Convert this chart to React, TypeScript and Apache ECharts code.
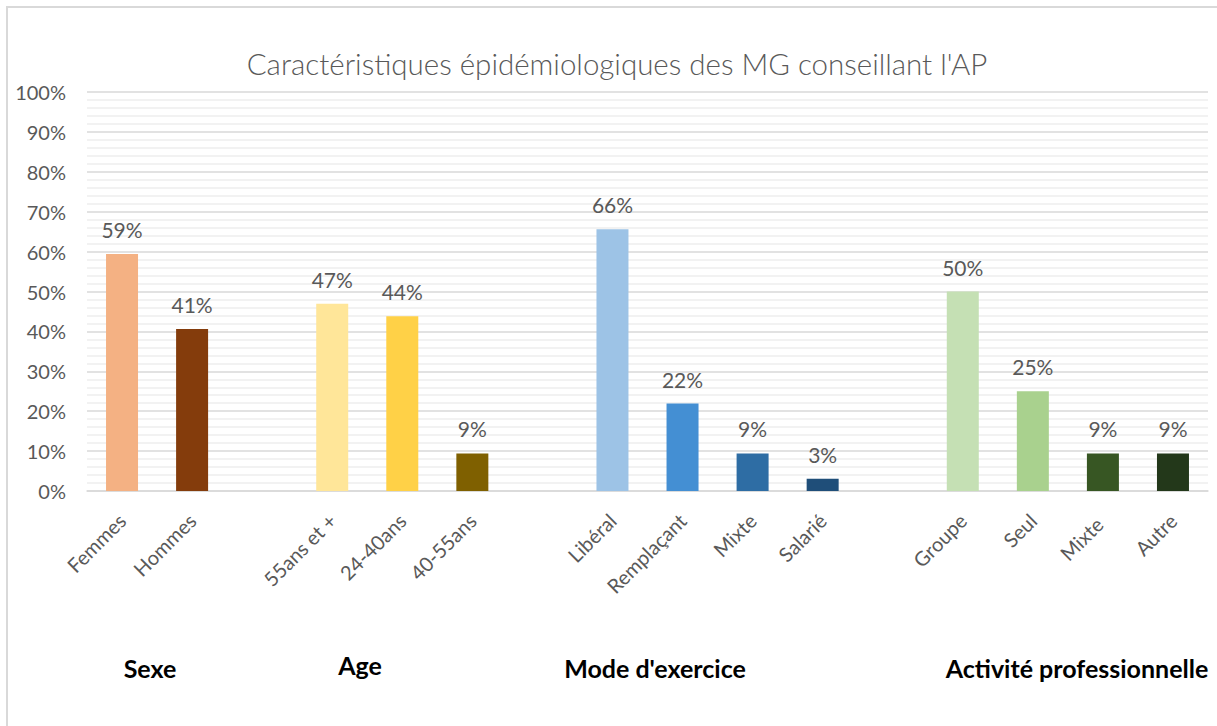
import React, { useEffect, useRef } from "react";
import * as echarts from "echarts";

const categories = [
  "Femmes", "Hommes", "",
  "55ans et +", "24-40ans", "40-55ans", " ",
  "Libéral", "Remplaçant", "Mixte", "Salarié", "  ",
  "Groupe", "Seul", "Mixte ", "Autre",
];
const values: (number | null)[] = [
  59.4, 40.6, null,
  46.9, 43.8, 9.4, null,
  65.6, 21.9, 9.4, 3.1, null,
  50, 25, 9.4, 9.4,
];
const colors = [
  "#F4B183", "#843C0C", "#ffffff",
  "#FFE699", "#FFD147", "#7F6000", "#ffffff",
  "#9DC3E6", "#448FD3", "#2E6DA4", "#1F4E79", "#ffffff",
  "#C5E0B4", "#A9D18E", "#375623", "#23381A",
];
const groupLabels = ["Sexe", "Age", "Mode d'exercice", "Activité professionnelle"];
const groupCenters = [150, 360, 655, 1077];
const groupY = [668, 665, 668, 668];
const yTicks = [0, 10, 20, 30, 40, 50, 60, 70, 80, 90, 100];

export default function App() {
  const ref = useRef<HTMLDivElement>(null);
  useEffect(() => {
    if (!ref.current) return;
    const chart = echarts.init(ref.current, null, { renderer: "svg" });
    const font = "Lato, 'Open Sans', sans-serif";
    chart.setOption({
      animation: false,
      backgroundColor: "#ffffff",
      title: {
        text: "Caractéristiques épidémiologiques des MG conseillant l'AP",
        left: 612,
        textAlign: "center",
        top: 43,
        textStyle: { fontFamily: font, fontSize: 29.5, fontWeight: 300, color: "#595959" },
      },
      grid: { left: 87, right: 9, top: 92, bottom: 235, containLabel: false },
      xAxis: {
        type: "category",
        data: categories,
        axisLine: { lineStyle: { color: "#d9d9d9", width: 1.5 } },
        axisTick: { show: false },
        axisLabel: {
          rotate: 45,
          interval: 0,
          margin: 26,
          fontFamily: font,
          fontSize: 20,
          color: "#595959",
        },
      },
      yAxis: {
        type: "value",
        min: yTicks[0],
        max: yTicks[yTicks.length - 1],
        interval: 10,
        axisLine: { show: false },
        axisTick: { show: false },
        axisLabel: {
          formatter: (v: number) => v + "%",
          fontFamily: font,
          fontSize: 20,
          color: "#595959",
          margin: 21,
        },
        splitLine: { lineStyle: { color: "#d9d9d9", width: 1.5 } },
        minorTick: { show: false, splitNumber: 5 },
        minorSplitLine: { show: true, lineStyle: { color: "#eeeeee", width: 1.5 } },
      },
      series: [
        {
          type: "bar",
          barWidth: 32,
          data: values.map((v, i) => ({ value: v, itemStyle: { color: colors[i] } })),
          label: {
            show: true,
            position: "top",
            distance: 14,
            formatter: (p: any) => (p.value == null ? "" : Math.round(p.value) + "%"),
            fontFamily: font,
            fontSize: 21,
            color: "#595959",
          },
        },
      ],
      graphic: [
        {
          type: "rect",
          shape: { x: 7, y: 7, width: 1230, height: 740 },
          style: { fill: "none", stroke: "#d9d9d9", lineWidth: 2 },
          silent: true,
        },
        ...groupLabels.map((g, i) => ({
          type: "text",
          x: groupCenters[i],
          y: groupY[i],
          style: {
            text: g,
            align: "center",
            verticalAlign: "middle",
            fontFamily: font,
            fontSize: 25,
            fontWeight: "bold",
            fill: "#000000",
          },
        })),
      ],
    });
    return () => chart.dispose();
  }, []);
  return (
    <div
      ref={ref}
      style={{ position: "absolute", left: 0, top: 0, width: 1217, height: 726 }}
    />
  );
}
